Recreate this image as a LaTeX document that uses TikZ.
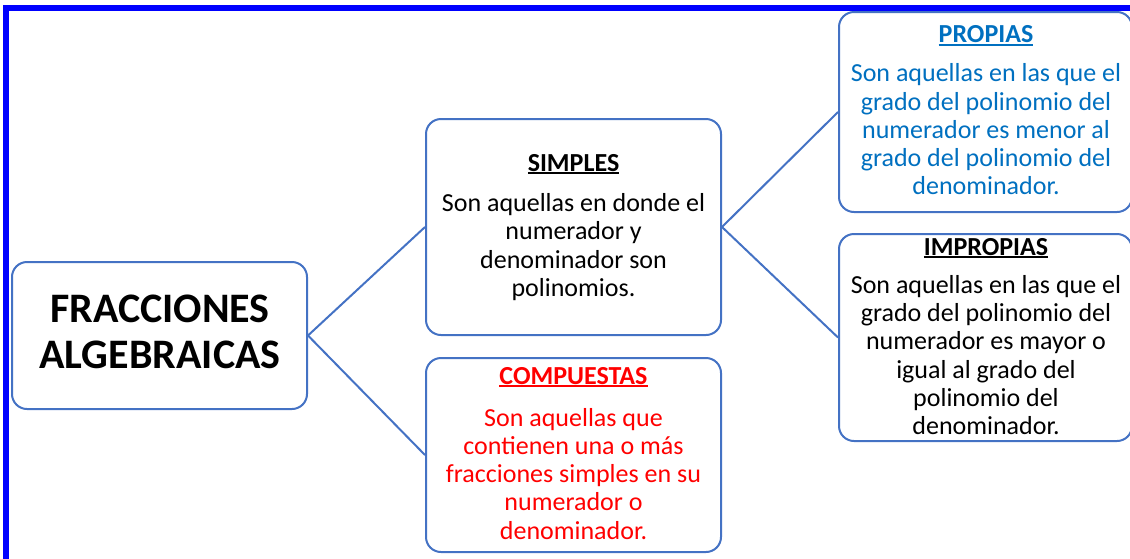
\documentclass[tikz,border=0pt]{standalone}
\usepackage{fontspec}
\setmainfont{Carlito}
\definecolor{boxblue}{HTML}{4472C4}
\definecolor{propblue}{HTML}{0070C0}
\definecolor{frameblue}{HTML}{0000FF}
\definecolor{compred}{HTML}{FF0000}
\newcommand\ulx[1]{\setbox0\hbox{#1}\rlap{\rule[-3pt]{\wd0}{1.6pt}}\box0}
\newcommand\mlines[1]{\begin{tabular}[t]{@{}c@{}}#1\end{tabular}}
\tikzset{
  box/.style={draw=boxblue, fill=white, line width=2pt, rounded corners=15pt, inner sep=0pt},
  link/.style={draw=boxblue, line width=2pt},
  txt/.style={anchor=base, inner sep=0pt, font=\fontsize{26}{28.3}\selectfont},
  ttl/.style={anchor=base, inner sep=0pt, font=\fontsize{26}{28.3}\selectfont\bfseries},
  big/.style={anchor=base, inner sep=0pt, font=\fontsize{42}{46}\selectfont\bfseries},
}
\begin{document}
\begin{tikzpicture}[x=1pt,y=-1pt]
\useasboundingbox (0,0) rectangle (1130,558);
% outer frame
\draw[frameblue, line width=6pt] (6,560) -- (6,8) -- (1132,8);
% boxes
\node[box, minimum width=295pt, minimum height=147pt] (frac) at (159.5,335.5) {};
\node[box, minimum width=295pt, minimum height=216pt] (simp) at (573.5,227) {};
\node[box, minimum width=295pt, minimum height=194pt] (comp) at (573.5,455) {};
\node[box, minimum width=293pt, minimum height=200pt] (prop) at (985.5,112) {};
\node[box, minimum width=293pt, minimum height=207pt] (impr) at (985.5,337.5) {};
% connectors
\draw[link] (frac.east) -- (simp.west);
\draw[link] (frac.east) -- (comp.west);
\draw[link] (simp.east) -- (prop.west);
\draw[link] (simp.east) -- (impr.west);
% texts
\node[big] (fracT) at (160,322) {\mlines{FRACCIONES\\ALGEBRAICAS}};
\node[ttl] (simpT) at (573.5,171) {\ulx{SIMPLES}};
\node[txt] (simpB) at (573.5,211.5) {\mlines{Son aquellas en donde el\\numerador y\\denominador son\\polinomios.}};
\node[ttl, text=compred] (compT) at (573.5,384) {\ulx{COMPUESTAS}};
\node[txt, text=compred] (compB) at (573.5,426) {\mlines{Son aquellas que\\contienen una o más\\fracciones simples en su\\numerador o\\denominador.}};
\node[ttl, text=propblue] (propT) at (986,42.5) {\ulx{PROPIAS}};
\node[txt, text=propblue] (propB) at (986,81.7) {\mlines{Son aquellas en las que el\\grado del polinomio del\\numerador es menor al\\grado del polinomio del\\denominador.}};
\node[ttl] (imprT) at (986,255) {\ulx{IMPROPIAS}};
\node[txt] (imprB) at (986,293.3) {\mlines{Son aquellas en las que el\\grado del polinomio del\\numerador es mayor o\\igual al grado del\\polinomio del\\denominador.}};
\end{tikzpicture}
\end{document}
